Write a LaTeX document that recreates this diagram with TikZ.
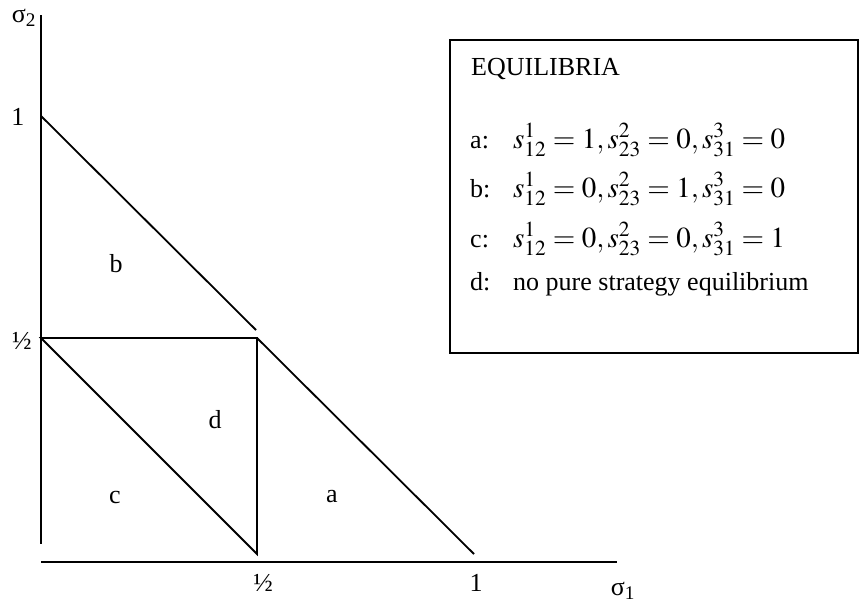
\documentclass[tikz,border=0pt]{standalone}
\usepackage{mathptmx}
\usepackage[no-math]{fontspec}
\setmainfont{Liberation Serif}
\usetikzlibrary{positioning}
\tikzset{
  ln/.style   ={line width=1.8pt,black},
  lbl/.style  ={font=\fontsize{26}{30}\selectfont,inner sep=0pt},
  region/.style={lbl},
  eqrow/.style ={lbl,anchor=base west},
  keybox/.style={draw,line width=1.8pt,anchor=north west,
                 minimum width=408pt,minimum height=313pt},
}
\newcommand{\eqtag}[1]{\makebox[43pt][l]{#1}}
\newcommand{\eqmath}[1]{{\fontsize{29}{32}\selectfont$#1$}}

\begin{document}
\begin{tikzpicture}[x=1pt,y=-1pt]
\useasboundingbox (0,0) rectangle (859,608);
% axes
\coordinate (ytop) at (41,15);
\coordinate (ybot) at (41,544);
\coordinate (xl) at (41,562);
\coordinate (xr) at (617,562);
\draw[ln] (ytop) -- (ybot);
\draw[ln] (xl) -- (xr);
\node[lbl] (sig2) at (24,18) {σ\textsubscript{2}};
\node[lbl] (sig1) at (623,591) {σ\textsubscript{1}};
\node[lbl] (y1) at (18,117) {1};
\node[lbl] (yh) at (22,341) {½};
\node[lbl] (xh) at (263,583) {½};
\node[lbl] (x1) at (476,583) {1};

% region borders
\coordinate (one2) at (41,116);
\coordinate (half2) at (41,338);
\coordinate (mid) at (257,338);
\coordinate (gap) at (256,330);
\coordinate (half1) at (257,554);
\coordinate (one1) at (474,554);
\draw[ln] (one2) -- (gap);
\draw[ln] (half2) -- (mid) -- (half1) -- cycle;
\draw[ln] (mid) -- (one1);

\node[region] (ra) at (332,497) {a};
\node[region] (rb) at (116,264) {b};
\node[region] (rc) at (115,497) {c};
\node[region] (rd) at (215,420) {d};

% legend
\node[keybox] (key) at (449,39) {};
\node[eqrow] (title) at (471,75) {EQUILIBRIA};
\node[eqrow] (eqa) at (470,148) {\eqtag{a:}\eqmath{s_{12}^{1}=1, s_{23}^{2}=0, s_{31}^{3}=0}};
\node[eqrow] (eqb) at (470,197) {\eqtag{b:}\eqmath{s_{12}^{1}=0, s_{23}^{2}=1, s_{31}^{3}=0}};
\node[eqrow] (eqc) at (470,247) {\eqtag{c:}\eqmath{s_{12}^{1}=0, s_{23}^{2}=0, s_{31}^{3}=1}};
\node[eqrow] (eqd) at (470,290) {\eqtag{d:}no pure strategy equilibrium};
\end{tikzpicture}
\end{document}
